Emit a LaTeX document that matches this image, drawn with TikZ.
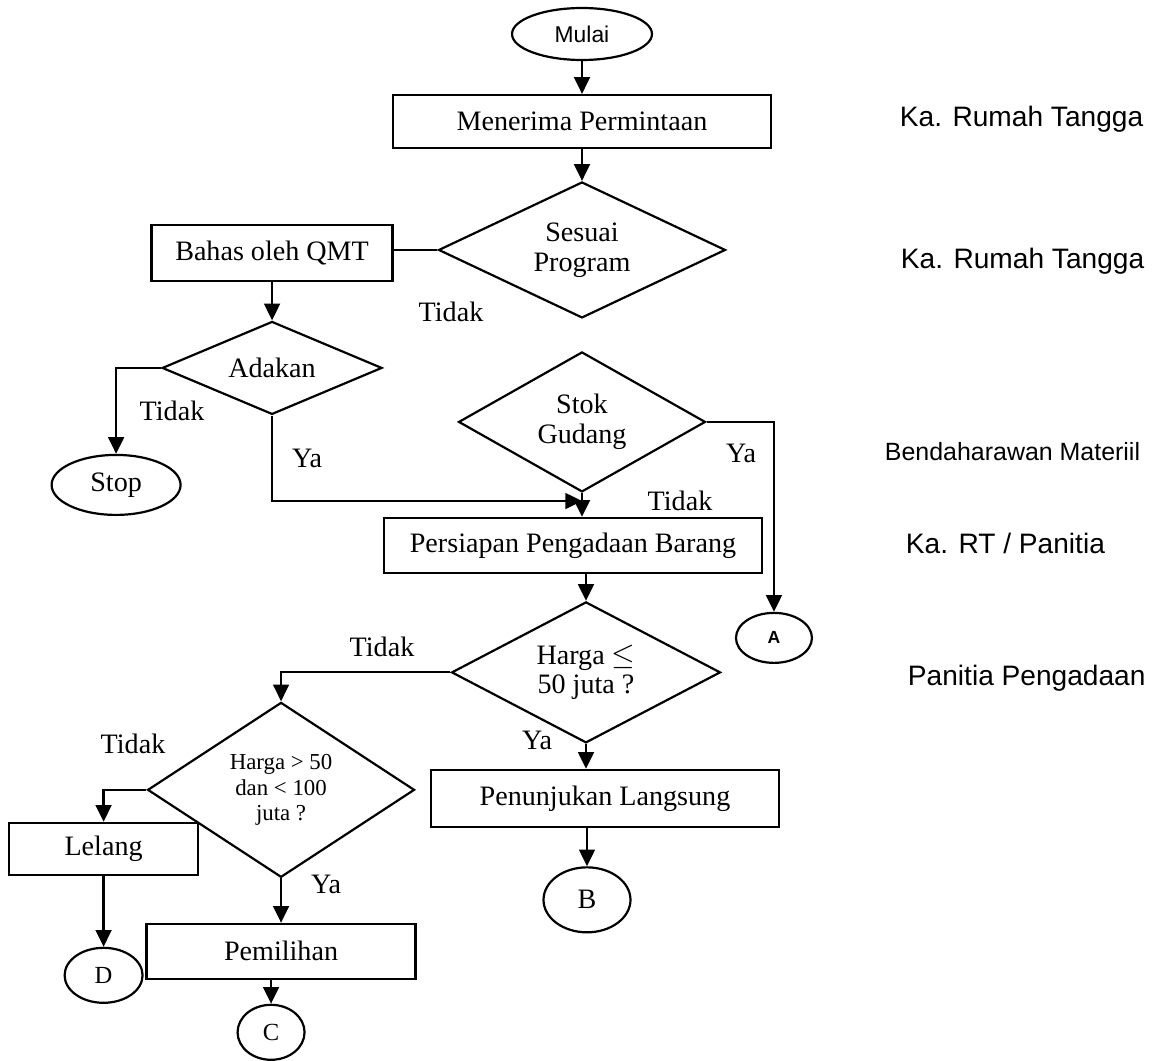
\documentclass[tikz,border=0pt]{standalone}
\usepackage{fontspec}
\setmainfont{Liberation Serif}
\newfontfamily\arial{Liberation Sans}
\usetikzlibrary{shapes.geometric,positioning,arrows.meta}
\newcommand{\widthrect}{7.56cm}
\newcommand{\heightrect}{1.1cm}
\newcommand{\teks}{\fontsize{16}{17}\selectfont}
\newcommand{\teksk}{\fontsize{13}{14.7}\selectfont}

\begin{document}
\begin{tikzpicture}[x=0.02cm, y=-0.02cm, on grid, line width=1.25pt,
		>={Triangle[length=9.5pt,width=9pt]},
		every node/.style={font=\teks},
		proses/.style={draw, rectangle, minimum height=\heightrect, inner sep=0pt},
		keputusan/.style={draw, diamond, align=center, inner sep=0pt},
		terminal/.style={draw, ellipse, inner sep=0pt},
		pelaku/.style={anchor=base west, font=\arial\fontsize{16}{18}\selectfont}]
		\useasboundingbox (0,0) rectangle (1153,1061);
		% alur utama
		\node[terminal, minimum width=2.8cm, minimum height=1.04cm, font=\arial\fontsize{13}{15}\selectfont] (0) at (582,34) {Mulai};
		\node[proses, minimum width=\widthrect, minimum height=1.06cm] (1) [below=1.75cm of 0] {Menerima Permintaan};
		\node[keputusan, minimum width=5.74cm, minimum height=2.72cm, aspect=2.1] (2) [below=2.57cm of 1] {Sesuai\\Program};
		\node[proses, minimum width=4.82cm, minimum height=1.12cm] (3) [left=6.2cm of 2, yshift=-0.06cm] {Bahas oleh QMT};
		\node[keputusan, minimum width=4.4cm, minimum height=1.86cm, aspect=2.4] (4) [below=2.3cm of 3] {Adakan};
		\node[terminal, minimum width=2.58cm, minimum height=1.2cm] (5) [below left=2.34cm and 3.12cm of 4] {Stop};
		\node[keputusan, minimum width=4.94cm, minimum height=2.8cm, aspect=1.8] (6) [below=3.44cm of 2] {Stok\\Gudang};
		\node[proses, minimum width=\widthrect] (7) [below=2.47cm of 6, xshift=-0.18cm] {Persiapan Pengadaan Barang};
		\node[keputusan, minimum width=5.38cm, minimum height=2.82cm, aspect=1.9] (8) [below=2.54cm of 7, xshift=0.26cm] {Harga $\leq$\\50 juta ?};
		\node[proses, minimum width=6.96cm, minimum height=1.14cm] (9) [below=2.52cm of 8, xshift=0.38cm] {Penunjukan Langsung};
		\node[terminal, minimum width=1.74cm, minimum height=1.3cm] (10) [below=2.03cm of 9, xshift=-0.36cm] {B};
		\node[terminal, minimum width=1.52cm, minimum height=1cm, font=\arial\bfseries\fontsize{10}{12}\selectfont] (11) [below right=4.32cm and 3.84cm of 6] {A};
		\node[keputusan, minimum width=5.34cm, minimum height=3.5cm, aspect=1.5, font=\teksk] (12) [below left=2.35cm and 6.1cm of 8] {Harga > 50\\dan < 100\\juta ?};
		\node[proses, minimum width=3.78cm, minimum height=1.04cm] (13) [below left=1.18cm and 3.55cm of 12] {Lelang};
		\node[proses, minimum width=5.38cm] (14) [below=3.23cm of 12] {Pemilihan};
		\node[terminal, minimum width=1.56cm, minimum height=1.1cm, font=\fontsize{14}{16}\selectfont] (15) [below=2.53cm of 13] {D};
		\node[terminal, minimum width=1.34cm, minimum height=1.1cm, font=\fontsize{14}{16}\selectfont] (16) [below=1.62cm of 14, xshift=-0.2cm] {C};
		\coordinate[below=0.16cm of 6.south] (j);
		% keterangan jalur
		\node (17) at (451,312) {Tidak};
		\node (18) at (172,411) {Tidak};
		\node (19) at (307,458) {Ya};
		\node (20) at (741,453) {Ya};
		\node (21) at (680,501) {Tidak};
		\node (22) at (382,647) {Tidak};
		\node (23) at (537,740) {Ya};
		\node (24) at (133,744) {Tidak};
		\node (25) at (326,884) {Ya};
		% pelaksana
		\node[pelaku] (26) at (893,127) {Ka. Rumah Tangga};
		\node[pelaku] (27) at (894,268) {Ka. Rumah Tangga};
		\node[pelaku, font=\arial\fontsize{14.2}{16}\selectfont] (28) at (878,460) {Bendaharawan Materiil};
		\node[pelaku] (29) at (899,553) {Ka. RT / Panitia};
		\node[pelaku] (30) at (901,685) {Panitia Pengadaan};
		\path[->]
			(0) edge (1)
			(1) edge (2)
			(3) edge (4)
			(12) edge (14)
			(13) edge (15)
			(6.south) edge (6.south |- 7.north)
			(8.north |- 7.south) edge (8.north)
			(8.south) edge (8.south |- 9.north)
			(10.north |- 9.south) edge (10.north)
			(16.north |- 14.south) edge (16.north)
		;
		\draw (2.west) -- (2.west -| 3.east);
		\draw[->] (4.west) -| (5.north);
		\draw[->] (4.south) |- (j);
		\draw[->] (6.east) -| (11.north);
		\draw[->] (8.west) -| (12.north);
		\draw[->] (12.west) -| (13.north);
	\end{tikzpicture}
\end{document}
